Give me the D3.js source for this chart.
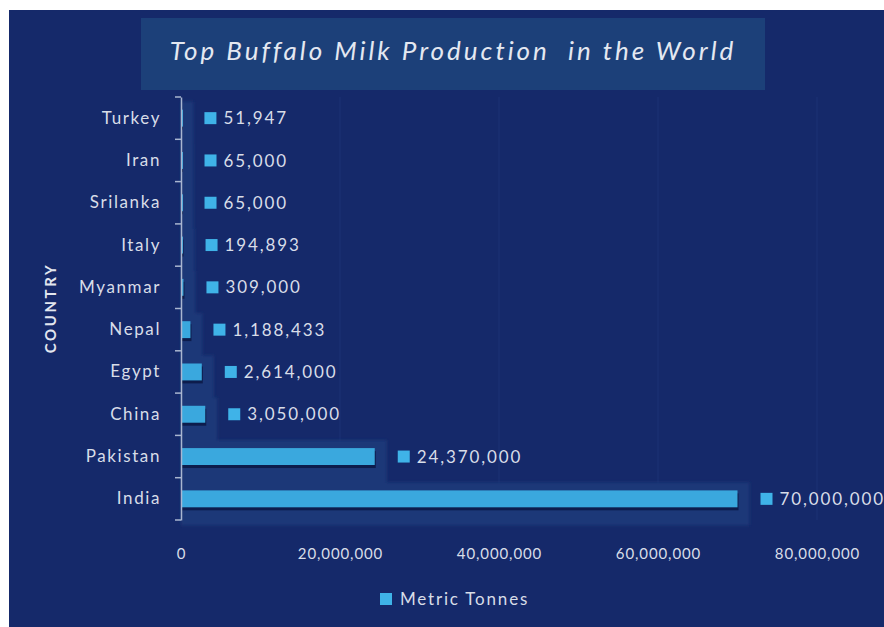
<!DOCTYPE html>
<html>
<head>
<meta charset="utf-8">
<script src="https://cdn.jsdelivr.net/npm/d3@7"></script>
<style>
  html, body { margin: 0; padding: 0; background: #ffffff; }
  svg { display: block; }
  text { font-family: Lato, "Open Sans", sans-serif; }
</style>
</head>
<body>
<svg id="chart" width="884" height="627"></svg>
<script>
// Buffalo milk production by country (metric tonnes)
const countries = ["Turkey", "Iran", "Srilanka", "Italy", "Myanmar", "Nepal", "Egypt", "China", "Pakistan", "India"];
const tonnes = [51947, 65000, 65000, 194893, 309000, 1188433, 2614000, 3050000, 24370000, 70000000];
const xTicks = [0, 20000000, 40000000, 60000000, 80000000];
const titleText = "Top Buffalo Milk Production  in the World";
const axisTitle = "COUNTRY";
const seriesName = "Metric Tonnes";

const rows = countries.map((c, i) => ({ country: c, value: tonnes[i] }));

const svg = d3.select("#chart");
const W = 884, H = 627;

const colors = {
  bg: "#15296a",
  titleBox: "#1c4079",
  bar: "#3aa8de",
  marker: "#3fb3e8",
  glow: "#1a3778",
  shadow: "#0b1744",
  text: "#d8dde8",
  axis: "#a9b6d0",
  grid: "#2a4588"
};

const defs = svg.append("defs");
defs.append("filter").attr("id", "soft")
  .attr("x", "-10%").attr("y", "-30%").attr("width", "120%").attr("height", "160%")
  .append("feGaussianBlur").attr("stdDeviation", 1.5);

// Chart area background
svg.append("rect").attr("x", 9).attr("y", 10).attr("width", W - 9).attr("height", H - 10)
  .attr("fill", colors.bg);

// Title panel
svg.append("rect").attr("x", 141).attr("y", 18).attr("width", 624).attr("height", 72)
  .attr("fill", colors.titleBox);
svg.append("text")
  .attr("x", 453).attr("y", 60)
  .attr("text-anchor", "middle")
  .attr("font-size", 26).attr("font-style", "italic")
  .attr("letter-spacing", 3)
  .attr("fill", "#e4e8f1")
  .style("white-space", "pre")
  .text(titleText);

// Scales
const x = d3.scaleLinear().domain([0, 80000000]).range([181, 817]);
const y = d3.scaleBand().domain(countries).range([97, 520]).paddingInner(0.6).paddingOuter(0.3);
const band = d3.scaleBand().domain(countries).range([97, 520]);

// Faint vertical gridlines
svg.append("g").selectAll("line").data(xTicks.slice(1)).join("line")
  .attr("x1", d => x(d)).attr("x2", d => x(d))
  .attr("y1", 97).attr("y2", 520)
  .attr("stroke", colors.grid).attr("stroke-width", 1).attr("opacity", 0.35);

// Glow panels behind bars
svg.append("g").attr("filter", "url(#soft)").selectAll("rect").data(rows).join("rect")
  .attr("x", x(0))
  .attr("y", d => y(d.country) - 8)
  .attr("width", d => x(d.value) - x(0) + 12)
  .attr("height", y.bandwidth() + 26)
  .attr("fill", colors.glow);

// Drop shadow under bars
svg.append("g").selectAll("rect").data(rows).join("rect")
  .attr("x", x(0) + 1)
  .attr("y", d => y(d.country) + 3)
  .attr("width", d => Math.max(1, x(d.value) - x(0)))
  .attr("height", y.bandwidth())
  .attr("fill", colors.shadow).attr("opacity", 0.85);

// Bars
svg.append("g").selectAll("rect").data(rows).join("rect")
  .attr("x", x(0))
  .attr("y", d => y(d.country))
  .attr("width", d => Math.max(2, x(d.value) - x(0)))
  .attr("height", y.bandwidth())
  .attr("fill", colors.bar);

// Y axis (category)
const yAxis = d3.axisLeft(band).tickSize(0).tickPadding(20);
const gy = svg.append("g").attr("transform", `translate(${x(0)},0)`).call(yAxis);
gy.select(".domain").attr("stroke", colors.axis).attr("stroke-width", 1.5);
gy.selectAll(".tick text")
  .attr("fill", colors.text).attr("font-size", 17).attr("letter-spacing", 1.6)
  .attr("font-family", "Lato, 'Open Sans', sans-serif");
// tick marks between categories
svg.append("g").selectAll("line").data(d3.range(countries.length + 1)).join("line")
  .attr("x1", x(0) - 6).attr("x2", x(0))
  .attr("y1", i => 97 + i * band.step()).attr("y2", i => 97 + i * band.step())
  .attr("stroke", colors.axis).attr("stroke-width", 1.5);

// X axis labels
const xAxis = d3.axisBottom(x).tickValues(xTicks).tickSize(0).tickPadding(0)
  .tickFormat(d3.format(","));
const gx = svg.append("g").attr("transform", "translate(0,548)").call(xAxis);
gx.select(".domain").remove();
gx.selectAll(".tick text")
  .attr("fill", colors.text).attr("font-size", 15).attr("letter-spacing", 0.9)
  .attr("font-family", "Lato, 'Open Sans', sans-serif");

// Data labels with legend key
const labels = svg.append("g").selectAll("g").data(rows).join("g")
  .attr("transform", d => `translate(${x(d.value) + 23},${y(d.country) + y.bandwidth() / 2})`);
labels.append("rect").attr("x", 0).attr("y", -6).attr("width", 12).attr("height", 12)
  .attr("fill", colors.marker);
labels.append("text").attr("x", 19).attr("dy", "0.36em")
  .attr("fill", colors.text).attr("font-size", 17).attr("letter-spacing", 1.9)
  .text(d => d3.format(",")(d.value));

// Axis title
svg.append("text")
  .attr("transform", "translate(56,308) rotate(-90)")
  .attr("text-anchor", "middle")
  .attr("font-size", 15).attr("font-weight", "bold").attr("letter-spacing", 2.6)
  .attr("fill", "#e2e6ef")
  .text(axisTitle);

// Legend
const lg = svg.append("g").attr("transform", "translate(380,593)");
lg.append("rect").attr("width", 12).attr("height", 12).attr("fill", colors.marker);
lg.append("text").attr("x", 20).attr("y", 12)
  .attr("fill", colors.text).attr("font-size", 17).attr("letter-spacing", 1.8)
  .text(seriesName);
</script>
</body>
</html>
